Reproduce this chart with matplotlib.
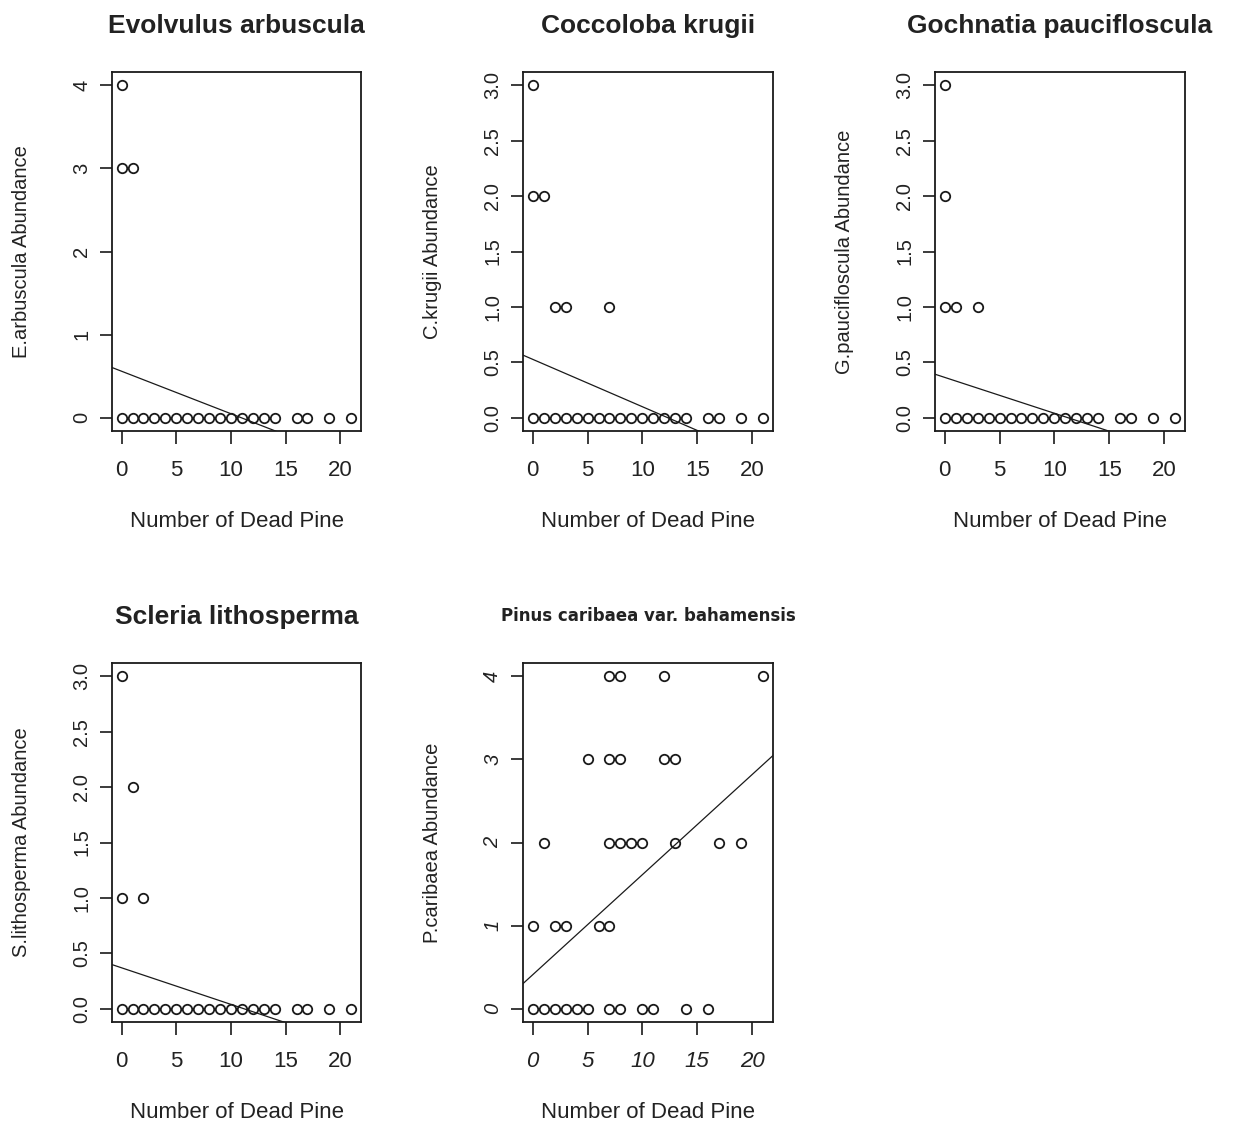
import matplotlib
matplotlib.use("Agg")
import matplotlib.pyplot as plt
import numpy as np

plt.rcParams['font.family'] = ['Liberation Sans', 'DejaVu Sans']

# ---------------- data ----------------
titles = ["Evolvulus arbuscula", "Coccoloba krugii", "Gochnatia paucifloscula",
          "Scleria lithosperma", "Pinus caribaea var. bahamensis"]
ylabels = ["E.arbuscula Abundance", "C.krugii Abundance", "G.paucifloscula Abundance",
           "S.lithosperma Abundance", "P.caribaea Abundance"]
xlabel = "Number of Dead Pine"

e_arbuscula_x = [0, 0, 1, 0, 1, 2, 3, 4, 5, 6, 7, 8, 9, 10, 11, 12, 13, 14, 16, 17, 19, 21]
e_arbuscula_y = [4, 3, 3, 0, 0, 0, 0, 0, 0, 0, 0, 0, 0, 0, 0, 0, 0, 0, 0, 0, 0, 0]

c_krugii_x = [0, 0, 1, 2, 3, 7, 0, 1, 2, 3, 4, 5, 6, 7, 8, 9, 10, 11, 12, 13, 14, 16, 17, 19, 21]
c_krugii_y = [3, 2, 2, 1, 1, 1, 0, 0, 0, 0, 0, 0, 0, 0, 0, 0, 0, 0, 0, 0, 0, 0, 0, 0, 0]

g_paucifloscula_x = [0, 0, 0, 1, 3, 0, 1, 2, 3, 4, 5, 6, 7, 8, 9, 10, 11, 12, 13, 14, 16, 17, 19, 21]
g_paucifloscula_y = [3, 2, 1, 1, 1, 0, 0, 0, 0, 0, 0, 0, 0, 0, 0, 0, 0, 0, 0, 0, 0, 0, 0, 0]

s_lithosperma_x = [0, 1, 0, 2, 0, 1, 2, 3, 4, 5, 6, 7, 8, 9, 10, 11, 12, 13, 14, 16, 17, 19, 21]
s_lithosperma_y = [3, 2, 1, 1, 0, 0, 0, 0, 0, 0, 0, 0, 0, 0, 0, 0, 0, 0, 0, 0, 0, 0, 0]

p_caribaea_x = [7, 8, 12, 21,
                5, 7, 8, 12, 13,
                1, 7, 8, 9, 10, 13, 17, 19,
                0, 2, 3, 6, 7,
                0, 1, 2, 3, 4, 5, 7, 8, 10, 11, 14, 16]
p_caribaea_y = [4, 4, 4, 4,
                3, 3, 3, 3, 3,
                2, 2, 2, 2, 2, 2, 2, 2,
                1, 1, 1, 1, 1,
                0, 0, 0, 0, 0, 0, 0, 0, 0, 0, 0, 0]

fit_intercept = [0.559, 0.527, 0.364, 0.369, 0.408]
fit_slope = [-0.0511, -0.0428, -0.0324, -0.0330, 0.1205]

xticks = [0, 5, 10, 15, 20]
yticks_list = [[0, 1, 2, 3, 4],
               [0.0, 0.5, 1.0, 1.5, 2.0, 2.5, 3.0],
               [0.0, 0.5, 1.0, 1.5, 2.0, 2.5, 3.0],
               [0.0, 0.5, 1.0, 1.5, 2.0, 2.5, 3.0],
               [0, 1, 2, 3, 4]]
ytick_fmt = ["{:.0f}", "{:.1f}", "{:.1f}", "{:.1f}", "{:.0f}"]

xs = [e_arbuscula_x, c_krugii_x, g_paucifloscula_x, s_lithosperma_x, p_caribaea_x]
ys = [e_arbuscula_y, c_krugii_y, g_paucifloscula_y, s_lithosperma_y, p_caribaea_y]

# ---------------- layout ----------------
W, H = 1237, 1126
fig = plt.figure(figsize=(W / 100, H / 100), dpi=100)
fig.patch.set_facecolor('white')

# panel boxes in pixels: left, top, right, bottom
boxes = [(112, 72, 361, 431), (523, 72, 773, 431), (935, 72, 1185, 431),
         (112, 663, 361, 1022), (523, 663, 773, 1022)]

ink = '#1a1a1a'
txt = '#222222'
for i in range(5):
    l, t, r, b = boxes[i]
    ax = fig.add_axes([l / W, 1 - b / H, (r - l) / W, (b - t) / H])
    ax.plot(xs[i], ys[i], linestyle='none', marker='o', markersize=6.8,
            markerfacecolor='none', markeredgecolor=ink, markeredgewidth=1.3,
            clip_on=False)
    ymax = max(yticks_list[i])
    ext = 0.04 * ymax
    x0, x1 = -0.88, 21.9
    ax.set_xlim(x0, x1)
    ax.set_ylim(-ext, ymax + ext)
    lx = np.array([x0, x1])
    ax.plot(lx, fit_intercept[i] + fit_slope[i] * lx, color=ink, linewidth=0.9)

    for s in ax.spines.values():
        s.set_linewidth(1.3)
        s.set_color(ink)

    italic = (i == 4)
    ax.set_xticks(xticks)
    ax.set_xticklabels([str(v) for v in xticks], fontsize=16,
                       fontstyle='italic' if italic else 'normal', color=txt)
    ax.set_yticks(yticks_list[i])
    ax.set_yticklabels([ytick_fmt[i].format(v) for v in yticks_list[i]], fontsize=14.5,
                       rotation=90, va='center',
                       fontstyle='italic' if italic else 'normal', color=txt)
    ax.tick_params(axis='x', length=9, width=1.2, pad=12, color=ink)
    ax.tick_params(axis='y', length=9, width=1.2, pad=6, color=ink)

    ax.set_xlabel(xlabel, fontsize=16, color=txt)
    ax.xaxis.set_label_coords(0.5, -0.222)
    ax.set_ylabel(ylabels[i], fontsize=14.5, color=txt)
    ax.yaxis.set_label_coords(-0.325, 0.5)

    if i == 4:
        ax.set_title(titles[i], fontsize=12, fontweight='bold',
                     family='DejaVu Sans', pad=30, color=txt)
    else:
        ax.set_title(titles[i], fontsize=19, fontweight='bold', pad=28, color=txt)

fig.savefig('out.png', dpi=100, facecolor='white')
